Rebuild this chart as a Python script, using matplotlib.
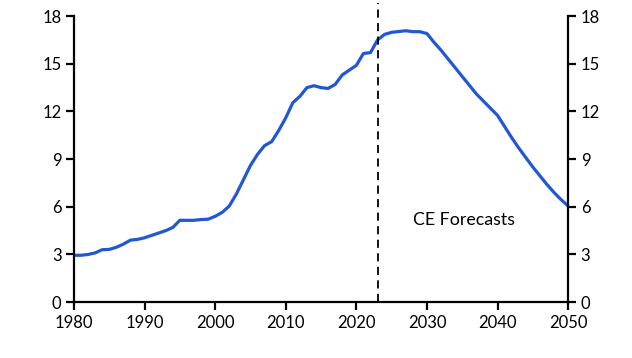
import matplotlib
matplotlib.use("Agg")
import matplotlib.pyplot as plt

years = list(range(1980, 2051))
values = [2.95, 2.95, 3.0, 3.1, 3.3, 3.32, 3.45, 3.65, 3.9, 3.95,
          4.05, 4.2, 4.35, 4.5, 4.7, 5.15, 5.15, 5.15, 5.2, 5.22,
          5.4, 5.65, 6.05, 6.8, 7.7, 8.6, 9.3, 9.85, 10.1, 10.8,
          11.6, 12.55, 12.95, 13.5, 13.62, 13.5, 13.45, 13.7, 14.3, 14.6,
          14.9, 15.65, 15.7, 16.5, 16.85, 16.98, 17.03, 17.08, 17.02, 17.02,
          16.9, 16.35, 15.85, 15.3, 14.75, 14.2, 13.65, 13.1, 12.65, 12.2,
          11.75, 11.05, 10.35, 9.7, 9.1, 8.5, 7.95, 7.4, 6.9, 6.45,
          6.05]
xticks = [1980, 1990, 2000, 2010, 2020, 2030, 2040, 2050]
yticks = [0, 3, 6, 9, 12, 15, 18]
forecast_start = 2023
annotation = "CE Forecasts"

plt.rcParams['font.family'] = ['Lato', 'DejaVu Sans']

fig = plt.figure(figsize=(6.32, 3.58), dpi=100)
ax = fig.add_axes([0.117, 0.156, 0.782, 0.799])

ax.plot(years, values, color='#2157d3', lw=2.3, solid_joinstyle='round')
ax.axvline(forecast_start, ymin=0, ymax=1.045, color='black', lw=1.3,
           ls=(0, (4.5, 3)), clip_on=False)
ax.text(2035.3, 5.2, annotation, ha='center', va='center', fontsize=12.8)

ax.set_xlim(1980, 2050)
ax.set_ylim(0, 18)
ax.set_xticks(xticks)
ax.set_yticks(yticks)
ax.spines['top'].set_visible(False)
for s in ['left', 'right', 'bottom']:
    ax.spines[s].set_linewidth(1.6)
ax.tick_params(axis='both', direction='out', length=6, width=1.6,
               labelsize=12, pad=3)
ax.tick_params(axis='y', right=True, labelright=True, left=True, labelleft=True)

fig.savefig('out.png', dpi=100)
